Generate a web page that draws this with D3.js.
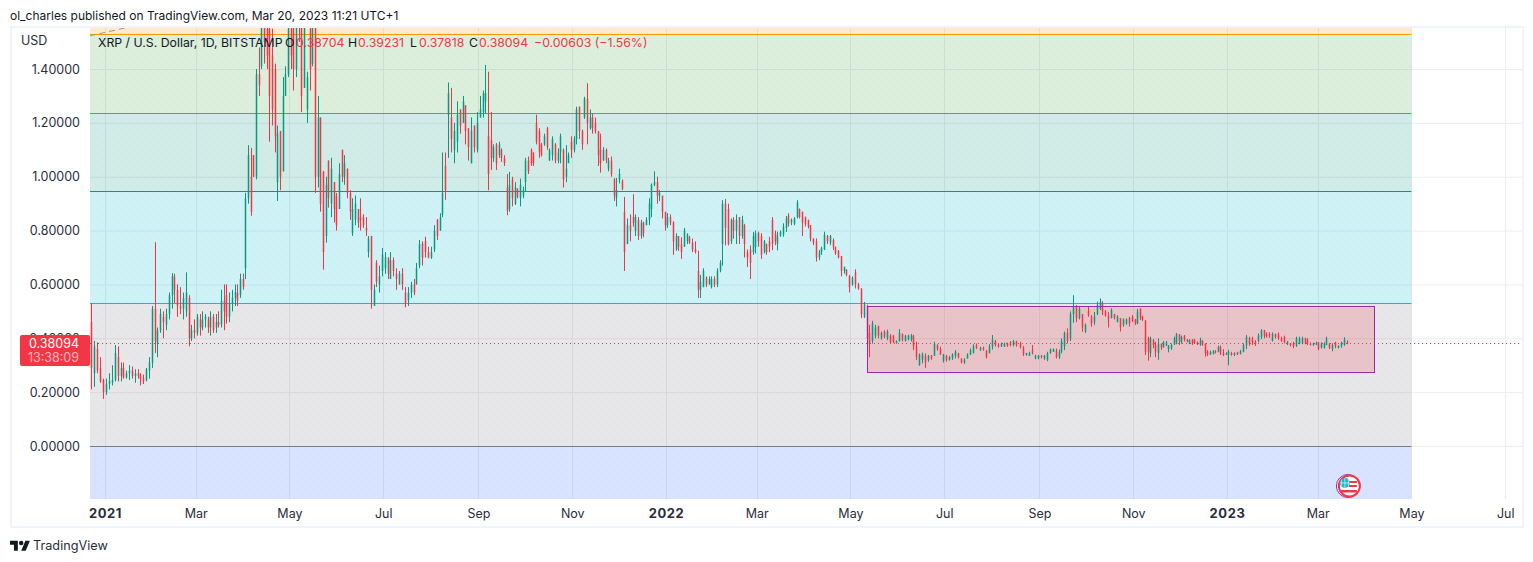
<!DOCTYPE html>
<html>
<head>
<meta charset="utf-8">
<title>XRP / U.S. Dollar</title>
<script src="https://cdn.jsdelivr.net/npm/d3@7"></script>
<style>
  html, body { margin: 0; padding: 0; background: #fff; overflow: hidden; }
  svg { display: block; font-family: Inter, "Open Sans", sans-serif; }
  .axis text { font-size: 12.5px; fill: #2a2e39; font-family: Inter, sans-serif; }
  .axis .domain { display: none; }
  .axis line { display: none; }
  .legend { font-size: 12.3px; }
</style>
</head>
<body>
<div id="chart"></div>
<script>
// each row is [open, high, low, close], split by the two month axis ticks
var dec20 = [[.46,.53,.21,.29],[.27,.39,.22,.37],[.36,.385,.27,.28],[.29,.33,.235,.24],[.245,.25,.175,.20]];
var jan21 = [[.20,.25,.19,.23],[.23,.27,.21,.24],[.235,.30,.225,.245],[.245,.375,.24,.345],[.33,.37,.24,.26],[.26,.31,.24,.29],[.29,.31,.25,.255],[.255,.28,.25,.27],[.27,.30,.245,.28],[.28,.295,.25,.26],[.26,.285,.235,.27],[.27,.285,.25,.26],[.26,.27,.225,.25],[.25,.265,.23,.24],[.245,.29,.24,.285],[.28,.33,.25,.31],[.31,.52,.29,.51],[.51,.757,.345,.39],[.38,.44,.33,.43],[.43,.51,.42,.49],[.48,.50,.40,.46],[.45,.51,.43,.49],[.49,.57,.47,.56],[.56,.642,.51,.63],[.63,.64,.53,.58],[.58,.60,.48,.52],[.52,.59,.49,.51],[.51,.57,.47,.55],[.50,.645,.48,.57],[.55,.56,.37,.40],[.40,.45,.39,.43],[.43,.47,.40,.42]];
var mar21 = [[.42,.49,.41,.48],[.47,.49,.41,.44],[.44,.50,.43,.47],[.47,.49,.44,.48],[.47,.48,.42,.44],[.44,.50,.41,.48],[.48,.49,.42,.43],[.44,.49,.42,.46],[.46,.50,.44,.45],[.45,.58,.44,.54],[.54,.60,.43,.50],[.56,.60,.455,.48],[.48,.57,.46,.53],[.53,.58,.50,.55],[.55,.60,.52,.57],[.57,.60,.52,.54],[.56,.64,.55,.62],[.62,.64,.58,.59],[.66,.94,.62,.92],[.92,1.117,.90,1.08],[1.0,1.107,.855,.87],[1.08,1.08,1.0,1.0],[1.0,1.40,.99,1.38],[1.38,1.48,1.30,1.34],[1.41,1.75,1.40,1.70],[1.70,1.85,1.42,1.5],[1.55,1.90,1.40,1.45],[1.55,1.78,1.13,1.30],[1.45,1.55,1.19,1.25],[1.40,1.42,1.09,1.15],[.98,1.19,.91,1.16],[1.17,1.17,.95,1.0],[1.02,1.37,1.02,1.30],[1.30,1.41,1.30,1.38],[1.38,1.62,1.37,1.55]];
var may21 = [[1.6,1.85,1.40,1.45],[1.55,1.7,1.32,1.4],[1.40,1.9,1.37,1.7],[1.7,1.96,1.5,1.6],[1.6,1.75,1.24,1.3],[1.33,1.7,1.33,1.6],[1.25,1.39,1.2,1.37],[1.55,1.6,1.32,1.4],[1.42,1.7,1.41,1.6],[1.6,1.75,.94,1.0],[1.0,1.30,.96,1.22],[1.22,1.22,.87,.90],[1.02,1.02,.655,.72],[.78,1.0,.755,.97],[1.06,1.06,.885,.92],[.90,1.07,.85,1.03],[.98,.98,.83,.88],[.93,.94,.80,.82],[.88,1.05,.88,1.01],[1.10,1.10,.98,1.0],[1.0,1.08,.97,1.05],[1.03,1.03,.92,.94],[.94,.95,.84,.87],[.79,.92,.78,.88],[.84,.93,.82,.90],[.88,.88,.81,.83],[.85,.92,.80,.84],[.85,.86,.81,.82],[.81,.85,.78,.80],[.72,.78,.70,.77],[.78,.78,.51,.58],[.52,.60,.52,.58],[.68,.69,.59,.61],[.60,.67,.57,.63],[.65,.735,.63,.71]];
var jul21 = [[.66,.72,.64,.70],[.70,.70,.62,.64],[.62,.72,.62,.69],[.69,.70,.63,.65],[.64,.66,.58,.62],[.60,.65,.60,.64],[.64,.66,.58,.60],[.57,.59,.515,.53],[.54,.59,.52,.57],[.57,.61,.55,.60],[.60,.62,.56,.57],[.60,.68,.60,.66],[.67,.765,.66,.75],[.75,.76,.67,.70],[.76,.777,.70,.72],[.72,.74,.697,.70],[.70,.74,.695,.72],[.73,.82,.72,.80],[.84,.843,.765,.78],[.80,.864,.80,.85],[.86,1.09,.85,.94],[1.04,1.09,.914,.95],[1.23,1.35,1.07,1.31],[1.22,1.33,1.09,1.14],[1.10,1.20,1.05,1.17],[1.13,1.28,1.09,1.23],[1.25,1.25,1.16,1.19],[1.20,1.30,1.20,1.28],[1.265,1.265,1.12,1.17],[1.18,1.18,1.06,1.11],[1.05,1.22,1.05,1.17],[1.19,1.19,1.09,1.11],[1.10,1.24,1.09,1.20]];
var sep21 = [[1.22,1.30,1.22,1.25],[1.24,1.32,1.22,1.31],[1.28,1.415,1.235,1.31],[1.15,1.39,.95,1.01],[1.135,1.24,1.025,1.07],[1.07,1.12,1.055,1.11],[1.12,1.125,1.025,1.05],[1.08,1.13,1.07,1.12],[1.10,1.105,1.055,1.07],[1.07,1.08,1.04,1.05],[.96,1.01,.857,.875],[.88,1.018,.87,.97],[.99,1.0,.89,.92],[.90,.98,.895,.96],[.955,.957,.92,.925],[.92,.993,.89,.97],[.93,.963,.92,.95],[.98,1.07,.945,1.06],[1.06,1.075,1.01,1.02],[1.10,1.105,1.04,1.05],[1.09,1.09,1.04,1.05],[1.2,1.23,1.12,1.13],[1.17,1.18,1.07,1.09],[1.12,1.125,1.075,1.08],[1.12,1.16,1.115,1.15],[1.18,1.185,1.10,1.11],[1.06,1.105,1.06,1.10],[1.08,1.15,1.06,1.14],[1.12,1.125,1.05,1.06],[1.06,1.105,1.05,1.09],[1.09,1.16,1.05,1.15],[1.10,1.105,.96,.99],[1.0,1.117,.98,1.03],[1.05,1.09,1.055,1.08],[1.13,1.15,1.07,1.10]];
var nov21 = [[1.10,1.15,1.09,1.14],[1.14,1.26,1.12,1.25],[1.26,1.26,1.14,1.17],[1.17,1.175,1.10,1.12],[1.22,1.297,1.215,1.29],[1.29,1.347,1.12,1.20],[1.18,1.25,1.175,1.22],[1.22,1.235,1.16,1.18],[1.20,1.22,1.16,1.17],[1.17,1.17,1.04,1.08],[1.10,1.16,1.015,1.05],[1.06,1.11,1.06,1.10],[1.10,1.105,1.05,1.06],[1.03,1.07,1.02,1.06],[1.06,1.075,1.0,1.01],[.99,.995,.91,.93],[.92,.995,.89,.95],[.99,1.03,.975,1.01],[.985,.99,.95,.955],[.87,.925,.65,.72],[.75,.845,.75,.82],[.82,.86,.76,.80],[.85,.935,.815,.83],[.80,.86,.78,.85],[.84,.85,.765,.78],[.78,.84,.77,.83],[.83,.833,.775,.79],[.82,.85,.82,.84],[.84,.92,.82,.90],[.88,.975,.85,.97],[.97,1.02,.965,.98],[.98,1.0,.90,.93],[.93,.95,.91,.94],[.93,.925,.845,.87],[.87,.865,.80,.82]];
var jan22 = [[.82,.865,.81,.85],[.85,.86,.82,.83],[.83,.835,.71,.76],[.73,.79,.725,.78],[.78,.775,.725,.74],[.75,.775,.695,.72],[.74,.81,.74,.80],[.76,.79,.75,.785],[.775,.78,.75,.755],[.755,.77,.72,.73],[.73,.76,.715,.72],[.65,.725,.55,.58],[.58,.635,.55,.61],[.59,.66,.59,.65],[.625,.63,.59,.60],[.60,.63,.60,.62],[.59,.63,.585,.62],[.62,.63,.59,.60],[.60,.66,.59,.65],[.65,.69,.645,.68],[.75,.913,.67,.90],[.90,.917,.745,.81],[.88,.90,.745,.75],[.76,.845,.75,.84],[.84,.85,.77,.80],[.80,.86,.75,.84],[.85,.85,.75,.78],[.78,.855,.77,.84],[.82,.825,.70,.75],[.72,.73,.665,.70],[.73,.745,.62,.68],[.72,.795,.71,.78],[.74,.80,.715,.79]];
var mar22 = [[.79,.796,.74,.76],[.78,.79,.695,.71],[.72,.765,.715,.76],[.75,.752,.71,.72],[.76,.777,.72,.74],[.84,.85,.727,.75],[.79,.80,.746,.76],[.75,.796,.727,.78],[.78,.80,.777,.795],[.785,.827,.777,.815],[.81,.854,.795,.845],[.855,.864,.815,.825],[.83,.845,.82,.84],[.825,.85,.82,.845],[.85,.913,.845,.905],[.88,.882,.845,.85],[.87,.87,.78,.83],[.85,.852,.815,.825],[.84,.84,.808,.815],[.82,.82,.76,.77],[.77,.771,.746,.755],[.76,.771,.685,.70],[.70,.728,.69,.72],[.72,.74,.71,.735],[.73,.796,.728,.785],[.78,.784,.75,.76],[.755,.784,.746,.78],[.765,.771,.728,.74],[.74,.74,.71,.715],[.725,.728,.697,.70],[.705,.705,.63,.65],[.65,.666,.64,.665],[.655,.656,.63,.635],[.63,.635,.57,.59]];
var may22 = [[.60,.63,.595,.625],[.645,.656,.585,.60],[.60,.606,.58,.585],[.585,.585,.475,.49],[.48,.535,.475,.525],[.52,.525,.37,.40],[.42,.45,.33,.38],[.39,.465,.38,.455],[.41,.45,.40,.44],[.445,.447,.40,.41],[.40,.425,.395,.42],[.425,.43,.40,.405],[.40,.432,.393,.425],[.41,.415,.38,.385],[.41,.412,.382,.385],[.382,.392,.38,.39],[.39,.434,.388,.42],[.415,.418,.388,.395],[.39,.412,.388,.41],[.395,.413,.392,.41],[.395,.416,.388,.41],[.41,.413,.356,.37],[.37,.387,.319,.33],[.30,.344,.298,.34],[.32,.347,.307,.34],[.335,.344,.29,.31],[.32,.338,.313,.335],[.335,.338,.32,.325],[.335,.387,.335,.38],[.375,.378,.354,.36],[.36,.369,.338,.34],[.315,.342,.31,.34]];
var jul22 = [[.335,.338,.313,.32],[.32,.335,.317,.33],[.325,.344,.32,.34],[.335,.356,.325,.35],[.345,.346,.325,.33],[.325,.326,.307,.31],[.31,.326,.305,.32],[.325,.344,.325,.34],[.34,.362,.338,.355],[.345,.378,.344,.37],[.375,.381,.36,.365],[.355,.369,.354,.365],[.365,.369,.354,.358],[.355,.356,.325,.33],[.345,.378,.344,.37],[.37,.412,.358,.395],[.39,.394,.369,.375],[.375,.381,.365,.37],[.37,.384,.368,.38],[.37,.384,.368,.38],[.38,.384,.368,.372],[.385,.39,.37,.375],[.375,.394,.37,.39],[.39,.391,.369,.375],[.38,.387,.362,.368],[.365,.371,.334,.34],[.338,.346,.335,.345],[.335,.35,.335,.345],[.355,.375,.34,.345],[.325,.339,.322,.335],[.325,.338,.322,.335]];
var sep22 = [[.335,.338,.325,.33],[.325,.338,.32,.335],[.32,.35,.315,.345],[.345,.362,.343,.36],[.35,.362,.35,.36],[.355,.362,.325,.33],[.33,.358,.323,.35],[.35,.40,.344,.39],[.37,.425,.356,.42],[.42,.437,.381,.39],[.40,.50,.39,.49],[.49,.56,.458,.52],[.52,.524,.46,.475],[.475,.52,.47,.51],[.49,.49,.424,.44],[.425,.455,.42,.45],[.50,.518,.48,.485],[.48,.486,.443,.455],[.46,.498,.45,.48],[.49,.536,.486,.525],[.51,.548,.505,.535],[.53,.538,.486,.50],[.50,.505,.48,.485],[.485,.498,.44,.47],[.475,.511,.474,.505],[.49,.49,.47,.475],[.46,.486,.46,.48],[.475,.474,.425,.44],[.45,.474,.443,.47],[.455,.474,.45,.47],[.475,.48,.443,.455],[.48,.486,.46,.465]];
var nov22 = [[.47,.472,.449,.455],[.455,.509,.452,.50],[.51,.511,.468,.475],[.48,.484,.464,.47],[.465,.468,.338,.35],[.40,.406,.317,.35],[.345,.406,.33,.40],[.395,.397,.363,.375],[.375,.387,.33,.35],[.345,.40,.32,.38],[.38,.38,.357,.365],[.368,.39,.365,.385],[.373,.39,.372,.385],[.36,.375,.348,.372],[.362,.381,.357,.375],[.378,.406,.375,.40],[.38,.42,.378,.415],[.415,.415,.375,.39],[.385,.41,.38,.405],[.41,.412,.388,.395],[.395,.397,.385,.388],[.38,.397,.378,.393],[.395,.397,.375,.38],[.395,.397,.38,.383],[.385,.388,.375,.378],[.375,.402,.372,.395],[.39,.393,.372,.378],[.38,.381,.332,.345],[.35,.356,.334,.338],[.34,.354,.338,.35],[.342,.356,.34,.352],[.352,.356,.344,.347],[.35,.373,.348,.368],[.368,.373,.338,.345],[.345,.36,.334,.338],[.34,.348,.338,.342]];
var jan23 = [[.34,.357,.30,.35],[.345,.35,.335,.338],[.338,.348,.334,.345],[.348,.35,.338,.34],[.342,.357,.34,.352],[.35,.381,.348,.375],[.375,.412,.36,.405],[.40,.406,.372,.38],[.40,.406,.375,.385],[.385,.393,.372,.378],[.39,.418,.385,.41],[.405,.434,.397,.43],[.43,.431,.40,.41],[.415,.422,.403,.408],[.415,.422,.402,.41],[.39,.422,.388,.415],[.415,.418,.40,.405],[.415,.422,.394,.40],[.40,.406,.387,.39],[.405,.41,.381,.385],[.38,.39,.375,.388],[.382,.382,.37,.375],[.38,.387,.363,.37],[.372,.406,.368,.40],[.38,.406,.378,.40],[.38,.406,.378,.40],[.40,.402,.378,.38],[.395,.40,.375,.38],[.38,.385,.373,.375],[.375,.384,.372,.382],[.376,.387,.375,.385]];
var mar23 = [[.385,.385,.356,.36],[.365,.385,.362,.38],[.365,.385,.362,.38],[.375,.406,.375,.40],[.38,.382,.36,.365],[.36,.382,.352,.375],[.385,.387,.363,.37],[.365,.374,.362,.372],[.37,.387,.365,.385],[.375,.404,.372,.395],[.38704,.39231,.37818,.38094]];

// candle blocks with the date each one starts on
var periods = [
  [dec20, "2020-12-22"], [jan21, "2021-01-01"], [mar21, "2021-03-01"], [may21, "2021-05-01"],
  [jul21, "2021-07-01"], [sep21, "2021-09-01"], [nov21, "2021-11-01"], [jan22, "2022-01-01"],
  [mar22, "2022-03-01"], [may22, "2022-05-01"], [jul22, "2022-07-01"], [sep22, "2022-09-01"],
  [nov22, "2022-11-01"], [jan23, "2023-01-01"], [mar23, "2023-03-01"]
];
var lastDate = "2023-03-20";

var priceTicks = [1.4, 1.2, 1.0, 0.8, 0.6, 0.4, 0.2, 0];
var timeTicks = ["2021-01-01", "2021-03-01", "2021-05-01", "2021-07-01", "2021-09-01", "2021-11-01", "2022-01-01", "2022-03-01", "2022-05-01", "2022-07-01", "2022-09-01", "2022-11-01", "2023-01-01", "2023-03-01", "2023-05-01", "2023-07-01"];
var timeLabels = ["2021", "Mar", "May", "Jul", "Sep", "Nov", "2022", "Mar", "May", "Jul", "Sep", "Nov", "2023", "Mar", "May", "Jul"];

// bands between horizontal levels, top to bottom
var bandLevels = [1.56, 1.53, 1.2365, 0.947, 0.531, 0, -0.2];
var bandFills = ["rgba(255,152,0,.2)", "rgba(76,175,80,.2)", "rgba(8,153,129,.19)", "rgba(0,188,212,.19)", "rgba(120,123,134,.18)", "rgba(41,98,255,.18)"];
var levelColors = ["#ff9800", "#4caf50", "#089981", "#22b5ca", "#787b86"];
var levelPrices = [1.53, 1.2365, 0.947, 0.531, 0];

var boxPrices = [0.52, 0.275];
var boxDates = ["2022-05-12", "2023-04-07"];
var bandDates = ["2020-12-01", "2023-05-01"];
var fanDates = ["2020-12-22", "2021-01-20"];
var fanPrices = [1.523, 1.56];

var upColor = "#089981", downColor = "#f23645";
var parse = d3.utcParse("%Y-%m-%d");

var candles = [];
periods.forEach(function(p, k) {
  var start = parse(p[1]);
  var end = k < periods.length - 1 ? parse(periods[k + 1][1]) : parse(lastDate);
  var n = k < periods.length - 1 ? p[0].length : p[0].length - 1;
  p[0].forEach(function(r, i) {
    candles.push({
      date: new Date(+start + (end - start) * (i + 0.5 * (k < periods.length - 1 ? 1 : 0)) / n),
      o: r[0], h: r[1], l: r[2], c: r[3]
    });
  });
});

var w = 1533, h = 562;
var x = d3.scaleUtc().domain([parse("2021-01-01"), parse("2023-01-01")]).range([105, 1227]);
var y = d3.scaleLinear().domain([0, 1.4]).range([446, 69]);

var svg = d3.select("#chart").append("svg").attr("width", w).attr("height", h);

var defs = svg.append("defs");
defs.append("clipPath").attr("id", "pane").append("rect")
  .attr("x", 90).attr("y", 28).attr("width", 1432).attr("height", 471);
var dots = defs.append("pattern").attr("id", "dots")
  .attr("width", 8).attr("height", 8).attr("patternUnits", "userSpaceOnUse");
dots.append("circle").attr("cx", 2).attr("cy", 2).attr("r", 0.6).attr("fill", "rgba(60,90,110,.08)");
dots.append("circle").attr("cx", 6).attr("cy", 6).attr("r", 0.6).attr("fill", "rgba(60,90,110,.08)");

// frame
svg.append("rect").attr("x", 11).attr("y", 27).attr("width", 1512).attr("height", 500)
  .attr("fill", "#fff").attr("stroke", "#f0f3fa").attr("stroke-width", 2);

var pane = svg.append("g").attr("clip-path", "url(#pane)");

// grid
pane.append("g").selectAll("line").data(priceTicks).enter().append("line")
  .attr("x1", 90).attr("x2", 1522)
  .attr("y1", function(d) { return y(d) + 0.5; })
  .attr("y2", function(d) { return y(d) + 0.5; })
  .attr("stroke", "#ebedf0");
pane.append("g").selectAll("line").data(timeTicks).enter().append("line")
  .attr("x1", function(d) { return Math.round(x(parse(d))) + 0.5; })
  .attr("x2", function(d) { return Math.round(x(parse(d))) + 0.5; })
  .attr("y1", 28).attr("y2", 499)
  .attr("stroke", "#ebedf0");

// coloured bands and the level lines
var bandX0 = 90, bandX1 = x(parse(bandDates[1]));
bandFills.forEach(function(fill, i) {
  var y0 = y(bandLevels[i]), y1 = y(bandLevels[i + 1]);
  pane.append("rect").attr("x", bandX0).attr("y", y0).attr("width", bandX1 - bandX0).attr("height", y1 - y0).attr("fill", fill);
  pane.append("rect").attr("x", bandX0).attr("y", y0).attr("width", bandX1 - bandX0).attr("height", y1 - y0).attr("fill", "url(#dots)");
});
pane.append("g").selectAll("line").data(levelPrices).enter().append("line")
  .attr("x1", bandX0).attr("x2", bandX1)
  .attr("y1", function(d) { return Math.round(y(d)) + 0.5; })
  .attr("y2", function(d) { return Math.round(y(d)) + 0.5; })
  .attr("stroke", function(d, i) { return levelColors[i]; });

// dashed fan line at the top left
pane.append("line")
  .attr("x1", x(parse(fanDates[0]))).attr("y1", y(fanPrices[0]))
  .attr("x2", x(parse(fanDates[1]))).attr("y2", y(fanPrices[1]))
  .attr("stroke", "#9598a1").attr("stroke-dasharray", "6 4");

// box behind the candles
var boxX = x(parse(boxDates[0])), boxW = x(parse(boxDates[1])) - boxX;
pane.append("rect").attr("x", boxX).attr("y", y(boxPrices[0]))
  .attr("width", boxW).attr("height", y(boxPrices[1]) - y(boxPrices[0]))
  .attr("fill", "rgba(242,54,69,.2)");

// last price line
var lastClose = candles[candles.length - 1].c;
pane.append("line").attr("x1", 90).attr("x2", 1522)
  .attr("y1", Math.round(y(lastClose)) + 0.5).attr("y2", Math.round(y(lastClose)) + 0.5)
  .attr("stroke", downColor).attr("stroke-dasharray", "1 3");

// candles
var bars = pane.append("g").selectAll("g").data(candles).enter().append("g")
  .attr("fill", function(d) { return d.c >= d.o ? upColor : downColor; });
bars.append("rect")
  .attr("x", function(d) { return Math.round(x(d.date)); })
  .attr("width", 1)
  .attr("y", function(d) { return y(d.h); })
  .attr("height", function(d) { return y(d.l) - y(d.h); });
bars.append("rect")
  .attr("x", function(d) { return Math.round(x(d.date)) - 0.25; })
  .attr("width", 1.5)
  .attr("y", function(d) { return y(Math.max(d.o, d.c)); })
  .attr("height", function(d) { return Math.max(1, Math.abs(y(d.o) - y(d.c))); });

pane.append("rect").attr("x", Math.round(boxX) + 0.5).attr("y", Math.round(y(boxPrices[0])) + 0.5)
  .attr("width", Math.round(boxW)).attr("height", Math.round(y(boxPrices[1]) - y(boxPrices[0])))
  .attr("fill", "none").attr("stroke", "#9c27b0");

// event badge with the flag
var badge = svg.append("g").attr("transform", "translate(" + x(parse(lastDate)) + ",486)");
badge.append("circle").attr("cx", 1).attr("r", 11.5).attr("fill", "#fff").attr("stroke", "#9c27b0").attr("stroke-width", 1);
badge.append("circle").attr("cx", 2.5).attr("r", 10.5).attr("fill", "#fff").attr("stroke", "#f23645").attr("stroke-width", 2);
badge.append("rect").attr("x", 2).attr("y", -5).attr("width", 8).attr("height", 2).attr("fill", "#f23645");
badge.append("rect").attr("x", 2).attr("y", -1).attr("width", 8).attr("height", 2).attr("fill", "#f23645");
badge.append("rect").attr("x", -6).attr("y", 4).attr("width", 16).attr("height", 2.5).attr("fill", "#f23645");
badge.append("circle").attr("cx", -2).attr("cy", -3).attr("r", 5).attr("fill", "#22b5ca");
badge.append("path").attr("d", "M-7 -3H3M-2 -8V2M-5.5 -6.5V0.5M1.5 -6.5V0.5").attr("stroke", "#fff").attr("stroke-width", 0.6);
// the pane ends at the time axis, so the badge is cut there too
svg.append("rect").attr("x", 1330).attr("y", 499).attr("width", 40).attr("height", 12).attr("fill", "#fff");

// axes
var yAxis = d3.axisLeft(y).tickValues(priceTicks).tickFormat(d3.format(".5f")).tickSize(0).tickPadding(0);
svg.append("g").attr("class", "axis").attr("transform", "translate(80,0)").call(yAxis);

var xAxis = d3.axisBottom(x).tickValues(timeTicks.map(parse)).tickSize(0).tickPadding(0)
  .tickFormat(function(d, i) { return timeLabels[i]; });
var xg = svg.append("g").attr("class", "axis").attr("transform", "translate(0,509)").call(xAxis);
xg.selectAll("text")
  .style("font-weight", function(d, i) { return /^20/.test(timeLabels[i]) ? 700 : 400; })
  .style("font-size", function(d, i) { return /^20/.test(timeLabels[i]) ? "13px" : null; })
  .style("letter-spacing", function(d, i) { return /^20/.test(timeLabels[i]) ? "0.6px" : null; });

svg.append("text").attr("x", 21).attr("y", 45).attr("font-size", 12.5).attr("fill", "#2a2e39").text("USD");

// last price tag
var tagY = Math.round(y(lastClose)) - 8;
svg.append("rect").attr("x", 20).attr("y", tagY).attr("width", 70).attr("height", 31).attr("rx", 2).attr("fill", downColor);
svg.append("text").attr("x", 79).attr("y", tagY + 13).attr("text-anchor", "end").attr("font-size", 12.5).attr("fill", "#fff").text("0.38094");
svg.append("text").attr("x", 79).attr("y", tagY + 27).attr("text-anchor", "end").attr("font-size", 12.5).attr("fill", "#fbb7bd").text("13:38:09");

// legend row
var ink = "#131722";
var legendItems = [
  [98, "XRP / U.S. Dollar, 1D, BITSTAMP", ink], [285, "O", ink], [296, "0.38704", downColor],
  [348, "H", ink], [358, "0.39231", downColor], [410, "L", ink], [419, "0.37818", downColor],
  [469, "C", ink], [479, "0.38094", downColor], [534, "−0.00603 (−1.56%)", downColor]
];
svg.append("g").selectAll("text").data(legendItems).enter().append("text")
  .attr("class", "legend")
  .attr("x", function(d) { return d[0]; })
  .attr("y", 47)
  .attr("fill", function(d) { return d[2]; })
  .text(function(d) { return d[1]; });

// header and footer
svg.append("text").attr("x", 10).attr("y", 20).attr("font-size", 12).attr("fill", "#131722")
  .text("ol_charles published on TradingView.com, Mar 20, 2023 11:21 UTC+1");
svg.append("g").attr("transform", "translate(10,538.5) scale(0.56)").attr("fill", "#131722")
  .call(function(g) {
    g.append("path").attr("d", "M14 22H7V11H0V4h14v18zM28 22h-8l7.5-18h8L28 22z");
    g.append("circle").attr("cx", 20).attr("cy", 8).attr("r", 4);
  });
svg.append("text").attr("x", 33).attr("y", 550).attr("font-size", 12.7).attr("fill", "#2a2e39").text("TradingView");
</script>
</body>
</html>
